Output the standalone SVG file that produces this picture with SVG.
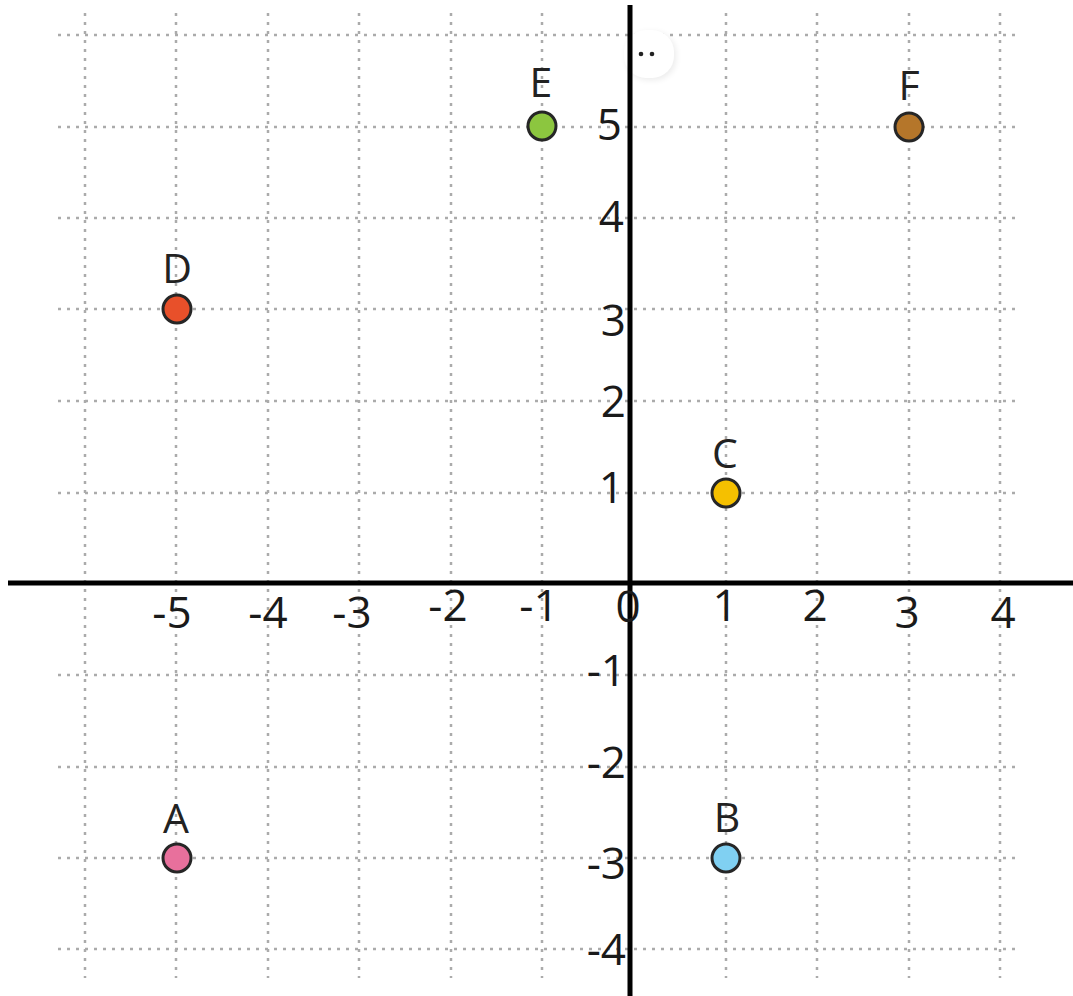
<svg xmlns="http://www.w3.org/2000/svg" width="1073" height="996" viewBox="0 0 1073 996">
<defs>
<style>
.grid line{stroke:#ababab;stroke-width:2.5;stroke-dasharray:3 6;}
.axis{stroke:#000;stroke-width:5;}
.tick{font-family:"Open Sans","Noto Sans",sans-serif;font-size:44px;fill:#1a1a1a;}
.xt{text-anchor:middle;}
.yt{text-anchor:end;}
.pt circle{stroke:#262626;stroke-width:3;}
.pt text{font-family:"Open Sans","Noto Sans",sans-serif;font-size:41px;fill:#222;text-anchor:middle;}
</style>
<filter id="sh" x="-30%" y="-30%" width="160%" height="160%">
<feGaussianBlur stdDeviation="3"/>
</filter>
</defs>
<rect width="1073" height="996" fill="#fff"/>
<g id="grid" class="grid">
<line x1="85" y1="13" x2="85" y2="978"/>
<line x1="176" y1="13" x2="176" y2="978"/>
<line x1="268" y1="13" x2="268" y2="978"/>
<line x1="359" y1="13" x2="359" y2="978"/>
<line x1="451" y1="13" x2="451" y2="978"/>
<line x1="542" y1="13" x2="542" y2="978"/>
<line x1="726" y1="13" x2="726" y2="978"/>
<line x1="817" y1="13" x2="817" y2="978"/>
<line x1="909" y1="13" x2="909" y2="978"/>
<line x1="1000" y1="13" x2="1000" y2="978"/>
<line x1="58" y1="35" x2="1018" y2="35"/>
<line x1="58" y1="127" x2="1018" y2="127"/>
<line x1="58" y1="218" x2="1018" y2="218"/>
<line x1="58" y1="309" x2="1018" y2="309"/>
<line x1="58" y1="401" x2="1018" y2="401"/>
<line x1="58" y1="493" x2="1018" y2="493"/>
<line x1="58" y1="675" x2="1018" y2="675"/>
<line x1="58" y1="767" x2="1018" y2="767"/>
<line x1="58" y1="858" x2="1018" y2="858"/>
<line x1="58" y1="949" x2="1018" y2="949"/>
</g>
<g id="menu">
<rect x="626" y="32" width="50" height="48" rx="22" fill="#000" opacity="0.08" filter="url(#sh)"/>
<rect x="624" y="30" width="50" height="48" rx="22" fill="#fff"/>
<circle cx="641" cy="54" r="2.3" fill="#222"/>
<circle cx="652" cy="54" r="2.3" fill="#222"/>
</g>
<g id="axes">
<line class="axis" x1="8" y1="583" x2="1073" y2="583"/>
<line class="axis" x1="630" y1="5" x2="630" y2="996"/>
</g>
<g id="x-ticks" class="tick xt">
<text x="172" y="628">-5</text>
<text x="268" y="628">-4</text>
<text x="352" y="628">-3</text>
<text x="448" y="621">-2</text>
<text x="539" y="621">-1</text>
<text x="628" y="622">0</text>
<text x="725" y="621">1</text>
<text x="815" y="621">2</text>
<text x="907" y="628">3</text>
<text x="1003" y="628">4</text>
</g>
<g id="y-ticks" class="tick yt">
<text x="622" y="140">5</text>
<text x="624" y="232">4</text>
<text x="626" y="336">3</text>
<text x="626" y="417">2</text>
<text x="624" y="503">1</text>
<text x="626" y="686">-1</text>
<text x="626" y="778">-2</text>
<text x="626" y="879">-3</text>
<text x="626" y="965">-4</text>
</g>
<g id="A" class="pt"><circle cx="177" cy="858" r="14" fill="#e8709c"/><text x="176" y="833">A</text></g>
<g id="B" class="pt"><circle cx="726" cy="858" r="14" fill="#80d0f2"/><text x="727" y="832">B</text></g>
<g id="C" class="pt"><circle cx="726" cy="493" r="14" fill="#f5c000"/><text x="725" y="468">C</text></g>
<g id="D" class="pt"><circle cx="177" cy="309" r="14" fill="#e8502a"/><text x="177" y="283">D</text></g>
<g id="E" class="pt"><circle cx="542" cy="126" r="14" fill="#8cc63f"/><text x="541" y="97">E</text></g>
<g id="F" class="pt"><circle cx="909" cy="127" r="14" fill="#b5762a"/><text x="909" y="100">F</text></g>
</svg>
